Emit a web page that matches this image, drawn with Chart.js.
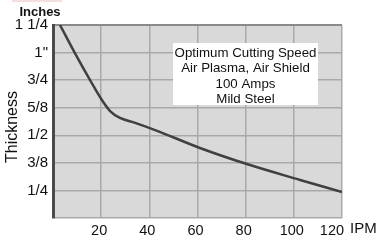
<!DOCTYPE html>
<html>
<head>
<meta charset="utf-8">
<script src="https://cdn.jsdelivr.net/npm/chart.js@4"></script>
<style>
  html, body { margin: 0; padding: 0; background: #fff; }
  #wrap { width: 387px; height: 240px; }
</style>
</head>
<body>
<div id="wrap"><canvas id="cutChart" width="387" height="240"></canvas></div>
<script>
// speed (IPM) vs thickness index (0 = bottom, 7 = 1 1/4")
const speed = [2.9, 9.1, 15.4, 20.3, 23.7, 27.8, 34.1, 42.4, 61, 81.8, 102.6, 120];
const thickness = [7, 5.98, 5.0, 4.28, 3.88, 3.63, 3.45, 3.19, 2.54, 1.92, 1.38, 0.94];
const thicknessLabels = ['', '1/4', '3/8', '1/2', '5/8', '3/4', '1"', '1 1/4'];
const speedTicks = [20, 40, 60, 80, 100, 120];
const noteLines = ['Optimum Cutting Speed', 'Air Plasma, Air Shield', '100 Amps', 'Mild Steel'];

const FONT = 'Liberation Sans, Arial, sans-serif';

// plot background + extra text
const decor = {
    id: 'decor',
    beforeDraw(chart) {
        const a = chart.chartArea;
        const ctx = chart.ctx;
        ctx.save();
        ctx.fillStyle = '#d9d9d9';
        ctx.fillRect(a.left, a.top, a.right - a.left, a.bottom - a.top);
        // faint logo edge at the very top
        ctx.fillStyle = '#f4dede';
        ctx.fillRect(12, 0, 50, 2);
        ctx.restore();
    },
    afterDraw(chart) {
        const a = chart.chartArea;
        const ctx = chart.ctx;
        ctx.save();
        // note box
        const bx = a.left + 120, by = a.top + 18, bw = 145, bh = 62;
        ctx.fillStyle = '#fff';
        ctx.fillRect(bx, by, bw, bh);
        ctx.fillStyle = '#111';
        ctx.font = '13.3px ' + FONT;
        ctx.textAlign = 'center';
        ctx.textBaseline = 'middle';
        noteLines.forEach((t, i) => ctx.fillText(t, bx + bw / 2, by + 10 + i * 15.5));
        // titles
        ctx.font = 'bold 13px ' + FONT;
        ctx.fillText('Inches', 40, 12);
        ctx.font = '15px ' + FONT;
        ctx.textAlign = 'left';
        ctx.fillText('IPM', 350, 229);
        ctx.translate(13, 127);
        ctx.rotate(-Math.PI / 2);
        ctx.textAlign = 'center';
        ctx.font = '16px ' + FONT;
        ctx.fillText('Thickness', 0, 0);
        ctx.restore();
    }
};

const ctx = document.getElementById('cutChart').getContext('2d');
new Chart(ctx, {
    type: 'scatter',
    data: {
        datasets: [{
            data: speed.map((s, i) => ({ x: s, y: thickness[i] })),
            showLine: true,
            borderColor: '#404040',
            borderWidth: 2.5,
            pointRadius: 0,
            cubicInterpolationMode: 'monotone',
            fill: false
        }]
    },
    options: {
        responsive: false,
        animation: false,
        layout: { padding: { left: 0, right: 45, top: 25, bottom: 0 } },
        plugins: { legend: { display: false }, tooltip: { enabled: false } },
        scales: {
            x: {
                type: 'linear',
                min: 0,
                max: 120,
                afterBuildTicks: s => { s.ticks = [0].concat(speedTicks).map(v => ({ value: v })); },
                afterFit: s => { s.height = 22; },
                grid: { color: '#a9a9a9', lineWidth: 1.5, drawTicks: false },
                border: { display: false },
                ticks: {
                    color: '#111',
                    font: { family: FONT, size: 14.5 },
                    padding: 4,
                    maxRotation: 0,
                    autoSkip: false,
                    callback: v => v === 0 ? '' : (v === 120 ? '120     ' : String(v) + ' ')
                }
            },
            y: {
                type: 'linear',
                min: 0,
                max: 7,
                afterBuildTicks: s => { s.ticks = thicknessLabels.map((t, i) => ({ value: i })); },
                afterFit: s => { s.width = 53; },
                grid: {
                    color: c => c.tick.value === 7 ? '#8a8a8a' : '#a9a9a9',
                    lineWidth: c => c.tick.value === 7 ? 2 : 1.5,
                    drawTicks: false
                },
                border: { display: true, color: '#4a4a4a', width: 3 },
                ticks: {
                    color: '#111',
                    font: { family: FONT, size: 15 },
                    padding: 5,
                    autoSkip: false,
                    callback: v => thicknessLabels[v]
                }
            }
        }
    },
    plugins: [decor]
});
</script>
</body>
</html>
